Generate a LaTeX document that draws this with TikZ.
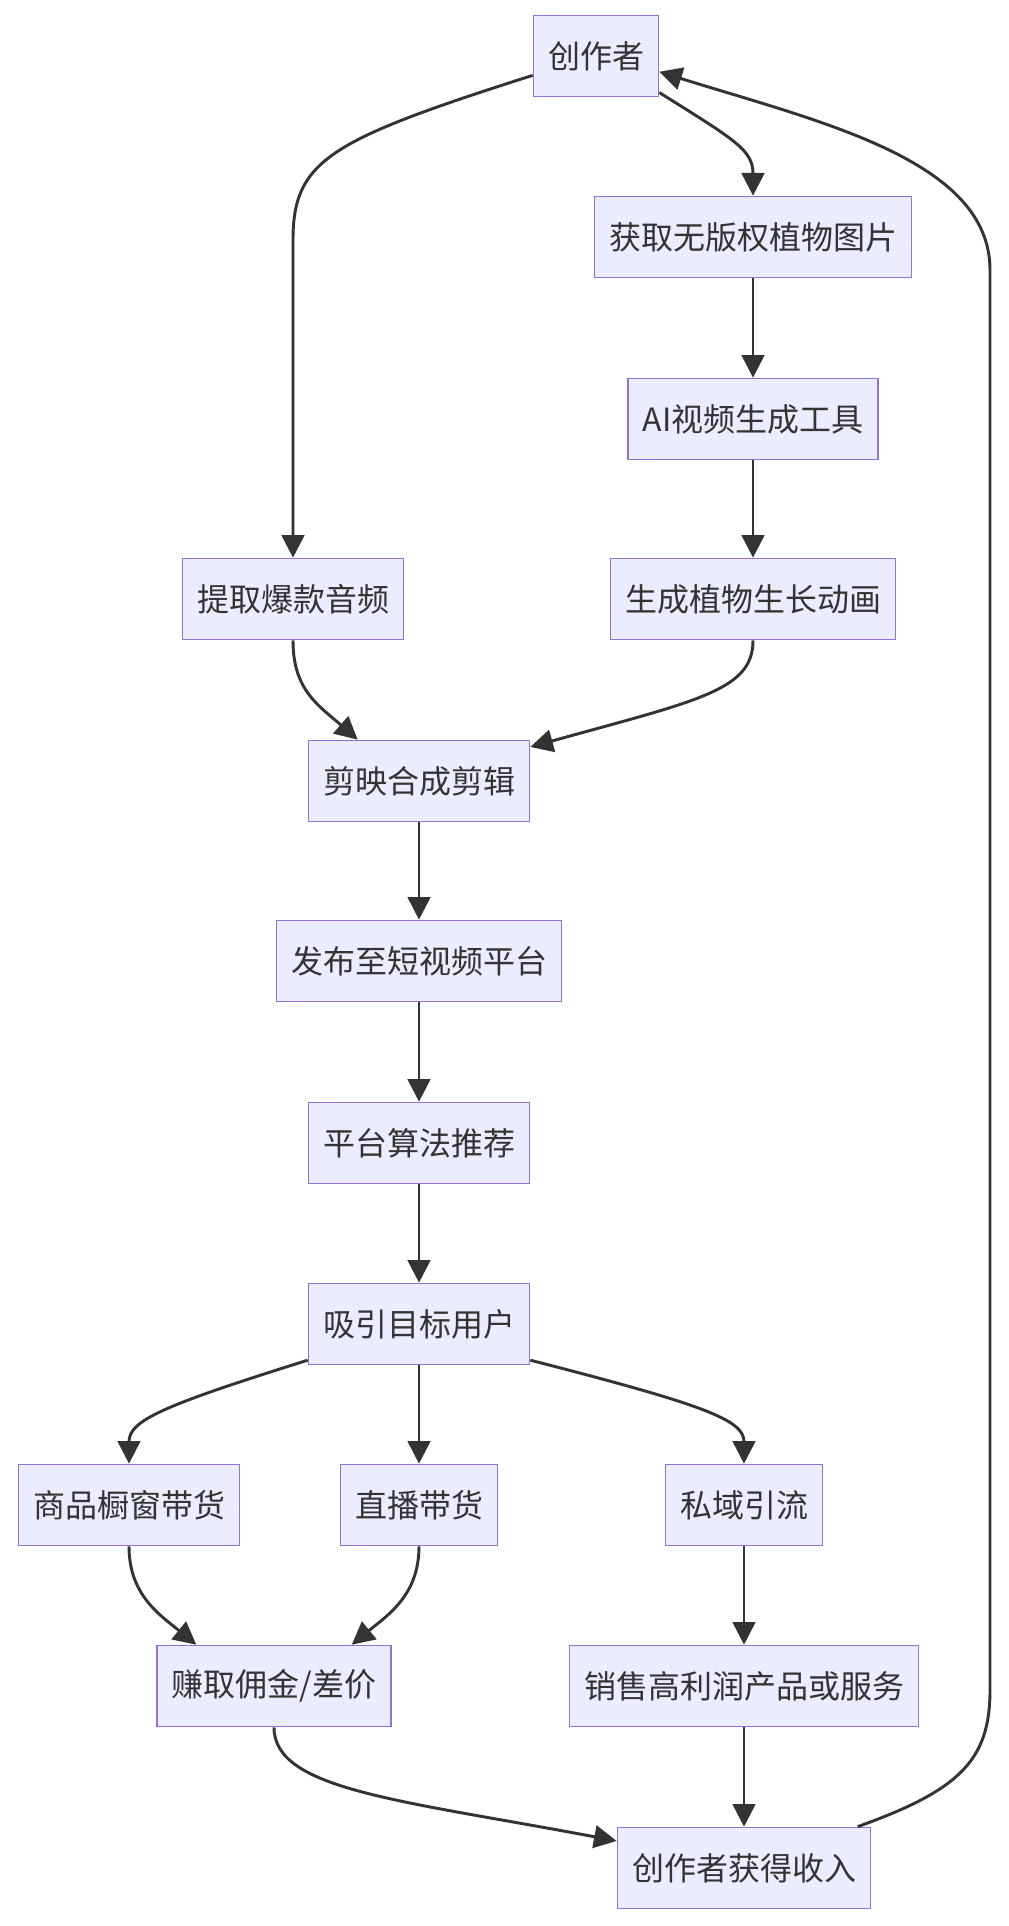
\documentclass[tikz,border=0pt]{standalone}
\usepackage{fontspec}
\newfontfamily\cjk{Noto Sans CJK SC}
\usepackage{xcolor}
\usetikzlibrary{arrows.meta,positioning,calc}

\definecolor{boxfill}{HTML}{ECECFF}
\definecolor{boxline}{HTML}{9370DB}
\definecolor{edgeline}{HTML}{333333}

\begin{document}
\begin{tikzpicture}[
    x=0.75pt, y=-0.75pt,
    stepbox/.style={draw=boxline, fill=boxfill, line width=1pt, rectangle,
        minimum height=61pt, inner xsep=11pt, text=edgeline,
        font=\cjk\fontsize{24pt}{28pt}\selectfont},
    arrow/.style={draw=edgeline, line width=2.2pt,
        -{Triangle[length=17pt,width=17pt]}}
]
    \useasboundingbox (0,0) rectangle (1008,1926);

    % top part
    \node[stepbox] (creator) at (596,56) {创作者};
    \node[stepbox] (images) at (753,237) {获取无版权植物图片};
    \node[stepbox] (aitool) at (753,419) {AI视频生成工具};
    \node[stepbox] (audio) at (293,599) {提取爆款音频};
    \node[stepbox] (anim) at (753,599) {生成植物生长动画};
    \node[stepbox] (edit) at (419,781) {剪映合成剪辑};
    \node[stepbox] (publish) at (419,961) {发布至短视频平台};
    \node[stepbox] (algo) at (419,1143) {平台算法推荐};
    \node[stepbox] (users) at (419,1324) {吸引目标用户};

    % monetisation
    \node[stepbox] (window) at (129,1505) {商品橱窗带货};
    \node[stepbox] (live) at (419,1505) {直播带货};
    \node[stepbox] (private) at (744,1505) {私域引流};
    \node[stepbox] (commission) at (274,1686) {赚取佣金/差价};
    \node[stepbox] (sales) at (744,1686) {销售高利润产品或服务};
    \node[stepbox] (income) at (744,1868) {创作者获得收入};

    \draw[arrow] (creator.197) .. controls (330,140) and (293,160) .. (293,240) -- (audio.north);
    \draw[arrow] (creator.330) .. controls (735,140) and (753,150) .. (images.north);
    \draw[arrow] (images) -- (aitool);
    \draw[arrow] (aitool) -- (anim);
    \draw[arrow] (audio.south) .. controls (293,690) and (318,705) .. (edit.146);
    \draw[arrow] (anim.south) .. controls (753,690) and (700,700) .. (edit.17);
    \draw[arrow] (edit) -- (publish);
    \draw[arrow] (publish) -- (algo);
    \draw[arrow] (algo) -- (users);

    \draw[arrow] (users.198) .. controls (165,1405) and (129,1420) .. (window.north);
    \draw[arrow] (users) -- (live);
    \draw[arrow] (users.342) .. controls (705,1405) and (744,1420) .. (private.north);
    \draw[arrow] (window.south) .. controls (129,1595) and (160,1615) .. (commission.152);
    \draw[arrow] (live.south) .. controls (419,1595) and (388,1615) .. (commission.28);
    \draw[arrow] (private) -- (sales);
    \draw[arrow] (sales) -- (income);
    \draw[arrow] (commission.south) .. controls (274,1790) and (400,1800) .. (income.168);

    % back to the creator
    \draw[arrow] (income.20) .. controls (960,1790) and (990,1760) .. (990,1690)
        -- (990,270) .. controls (990,160) and (820,122) .. (creator.346);
\end{tikzpicture}
\end{document}
